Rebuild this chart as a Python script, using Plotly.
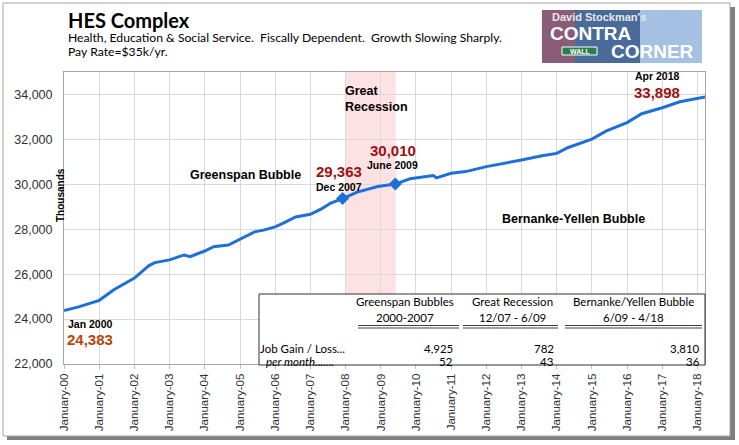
import plotly.graph_objects as go

# HES employment, thousands
months = ["2000-01", "2000-06", "2001-01", "2001-06", "2002-01", "2002-06", "2002-08",
          "2003-01", "2003-06", "2003-08", "2004-01", "2004-04", "2004-09", "2005-01",
          "2005-06", "2005-09", "2006-01", "2006-04", "2006-08", "2007-01", "2007-05",
          "2007-08", "2007-12", "2008-05", "2008-12", "2009-06", "2009-11", "2010-07",
          "2010-08", "2011-01", "2011-06", "2012-01", "2012-09", "2013-01", "2013-08",
          "2014-01", "2014-05", "2015-01", "2015-06", "2016-01", "2016-06", "2017-01",
          "2017-07", "2018-01", "2018-04"]
hes_jobs = [24383, 24543, 24835, 25308, 25825, 26382, 26515,
            26634, 26855, 26780, 27031, 27222, 27296, 27548,
            27884, 27959, 28105, 28282, 28547, 28666, 28918,
            29165, 29363, 29652, 29904, 30010, 30244, 30390,
            30288, 30491, 30566, 30787, 30977, 31083, 31273,
            31375, 31640, 32011, 32378, 32745, 33143, 33408,
            33673, 33806, 33898]

marker_months = ["2007-12", "2009-06"]
marker_vals = [29363, 30010]

year_ticks = [f"{y}-01-01" for y in range(2000, 2019)]
year_labels = [f"January-{y % 100:02d}" for y in range(2000, 2019)]
y_ticks = [22000, 24000, 26000, 28000, 30000, 32000, 34000]

recession = ["2008-01-01", "2009-06-05"]

table_cols = ["Greenspan Bubbles", "Great Recession", "Bernanke/Yellen Bubble"]
table_periods = ["2000-2007", "12/07 - 6/09", "6/09 - 4/18"]
job_gain = [4925, 782, 3810]
per_month = [52, 43, 36]

ARIAL = "Liberation Sans, Arial"
CALIBRI = "Lato, Open Sans"
DARKRED = "#A01010"

# plot area in pixels
L, R, T, B = 64, 705, 72, 364


def px(x, y):
    return (x - L) / (R - L), (B - y) / (B - T)


fig = go.Figure()

fig.add_trace(go.Scatter(x=months, y=hes_jobs, mode="lines",
                         line=dict(color="#1F6FD8", width=3), hoverinfo="skip"))
fig.add_trace(go.Scatter(x=marker_months, y=marker_vals, mode="markers",
                         marker=dict(symbol="diamond", size=10, color="#1F6FD8"), hoverinfo="skip"))


def rect(x0, y0, x1, y1, fill, line="rgba(0,0,0,0)", width=1, layer="above"):
    a, b = px(x0, y0)
    c, d = px(x1, y1)
    fig.add_shape(type="rect", xref="paper", yref="paper", x0=a, y0=b, x1=c, y1=d,
                  fillcolor=fill, line=dict(color=line, width=width), layer=layer)


def hline(x0, x1, y, color="black", width=1):
    a, b = px(x0, y)
    c, _ = px(x1, y)
    fig.add_shape(type="line", xref="paper", yref="paper", x0=a, y0=b, x1=c, y1=b,
                  line=dict(color=color, width=width), layer="above")


def label(x, y, text, size, color="black", bold=True, family=ARIAL, xanchor="center",
          yanchor="middle", italic=False, align="center"):
    xp, yp = px(x, y)
    if bold:
        text = f"<b>{text}</b>"
    if italic:
        text = f"<i>{text}</i>"
    fig.add_annotation(x=xp, y=yp, xref="paper", yref="paper", text=text, showarrow=False,
                       xanchor=xanchor, yanchor=yanchor, align=align, borderpad=0,
                       font=dict(family=family, size=size, color=color))


# frame with drop shadow
rect(7, 7, 735, 440, "#7f7f7f", layer="below")
rect(3, 3, 730, 436, "white", line="#a6a6a6", layer="below")

# recession band
fig.add_shape(type="rect", xref="x", yref="paper", x0=recession[0], x1=recession[1], y0=0, y1=1,
              fillcolor="rgba(253,205,208,0.6)", line_width=0, layer="below")

# titles
label(67, 20, "HES Complex", 20, family=CALIBRI, xanchor="left")
label(67, 37, "Health, Education & Social Service.\u00a0\u00a0Fiscally Dependent.\u00a0\u00a0Growth Slowing Sharply.",
      12.2, bold=False, family=CALIBRI, xanchor="left")
label(67, 51, "Pay Rate=$35k/yr.", 12.2, bold=False, family=CALIBRI, xanchor="left")

# logo
rect(542, 10, 702, 63, "#4A6A9A")
rect(542, 10, 575, 63, "#8A5C78")
rect(640, 10, 702, 63, "#A4C0E2")
rect(562, 47, 597, 55, "#2E7D4F", line="white")
label(580, 51, "WALL", 7, color="white", family=ARIAL)
label(599, 16.5, "David Stockman's", 11, color="#E8E8E8", family=ARIAL)
label(591, 33, "CONTRA", 19, color="white", family=ARIAL)
label(652, 51.5, "CORNER", 19, color="white", family=ARIAL)

# callouts
label(60, 195, "Thousands", 10)
fig.layout.annotations[-1].textangle = -90
label(90, 324, "Jan 2000", 10.5)
label(90, 339, "24,383", 15, color="#B8460C")
label(245, 175, "Greenspan Bubble", 12.5)
label(339, 171, "29,363", 15, color=DARKRED)
label(339, 186.5, "Dec 2007", 10.5)
label(344, 83, "Great<br>Recession", 12.5, xanchor="left", yanchor="top", align="left")
label(393, 150, "30,010", 15, color=DARKRED)
label(392, 165, "June 2009", 10.5)
label(573, 219, "Bernanke-Yellen Bubble", 12.5)
label(657, 76, "Apr 2018", 10.5)
label(657, 92, "33,898", 15, color=DARKRED)

# summary table
rect(259, 294, 705, 365, "white", line="#303030")
col_centers = [405, 512, 633]
col_rights = [454, 555, 701]
underline = [(358, 459), (463, 558), (565, 702)]
for i in range(3):
    label(col_centers[i], 301, table_cols[i], 11.5, bold=False, family=CALIBRI)
    label(col_centers[i], 317, table_periods[i], 11.5, bold=False, family=CALIBRI)
    hline(underline[i][0], underline[i][1], 325.5, color="#404040")
    hline(underline[i][0], underline[i][1], 328, color="#404040")
    label(col_rights[i], 348, f"{job_gain[i]:,}", 11.5, bold=False, family=CALIBRI, xanchor="right")
    label(col_rights[i], 361, f"{per_month[i]:,}", 11.5, bold=False, family=CALIBRI, xanchor="right")
label(259, 348, "Job Gain / Loss...", 11.5, bold=False, family=CALIBRI, xanchor="left")
label(265, 361, "per month.......", 11.5, bold=False, family=CALIBRI, xanchor="left", italic=True)

fig.update_xaxes(type="date", range=["2000-01-01", "2018-03-20"],
                 tickvals=year_ticks, ticktext=year_labels, tickangle=-90,
                 tickfont=dict(family=ARIAL, size=11.5, color="#303030"),
                 showgrid=True, gridcolor="#d9d9d9", gridwidth=1,
                 ticks="outside", ticklen=4, tickcolor="#bfbfbf",
                 showline=True, linecolor="#a6a6a6", mirror=True, zeroline=False,
                 automargin=False)
fig.update_yaxes(range=[22000, 35000], tickvals=y_ticks, tickformat=",",
                 tickfont=dict(family=ARIAL, size=12.5, color="#303030"),
                 showgrid=True, gridcolor="#d9d9d9", gridwidth=1,
                 ticks="", ticklabelstandoff=8,
                 showline=True, linecolor="#a6a6a6", mirror=True, zeroline=False,
                 automargin=False)

fig.update_layout(width=739, height=445, showlegend=False,
                  margin=dict(l=L, r=739 - R, t=T, b=445 - B),
                  paper_bgcolor="white", plot_bgcolor="white")

# the page body has a default 8px margin; drop it so the figure fills the window
fig.write_html("out.html", config={"displayModeBar": False},
               post_script="document.body.style.margin = '0';")
